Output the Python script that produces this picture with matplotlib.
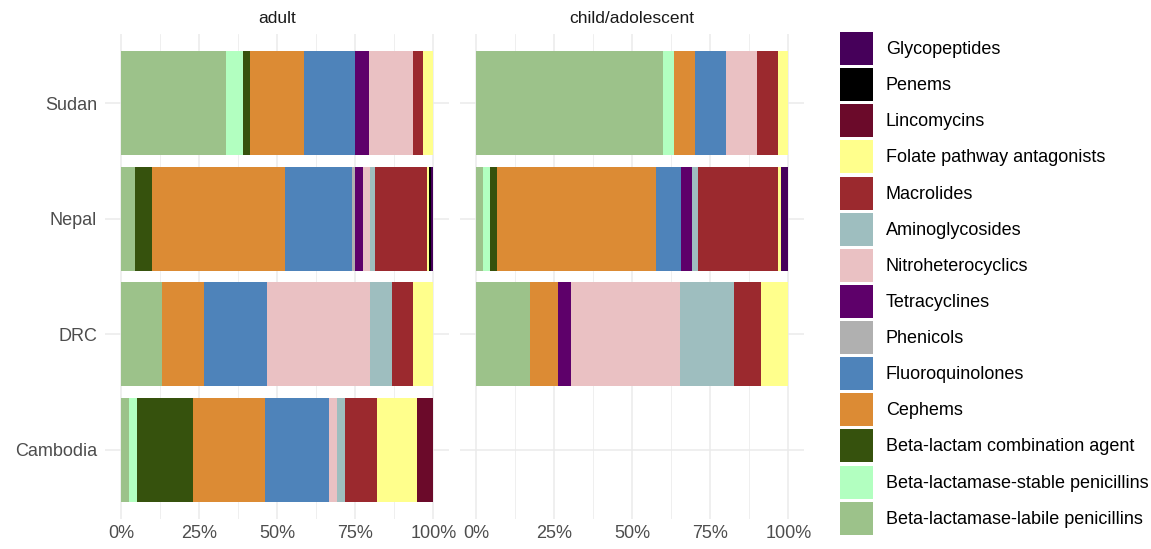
import matplotlib
matplotlib.use("Agg")
import matplotlib.pyplot as plt
from matplotlib.patches import Patch
import numpy as np

plt.rcParams["font.family"] = ["Liberation Sans", "DejaVu Sans"]

# Antimicrobial classes, in stacking order (left to right)
classes = [
    "Beta-lactamase-labile penicillins",
    "Beta-lactamase-stable penicillins",
    "Beta-lactam combination agent",
    "Cephems",
    "Fluoroquinolones",
    "Phenicols",
    "Tetracyclines",
    "Nitroheterocyclics",
    "Aminoglycosides",
    "Macrolides",
    "Folate pathway antagonists",
    "Lincomycins",
    "Penems",
    "Glycopeptides",
]
colors = [
    "#9CC28A", "#B2FFC0", "#36520D", "#DC8B34", "#4E83BA", "#B0B0B0",
    "#5E006A", "#EAC1C3", "#9EBEBF", "#9B292E", "#FFFF8C", "#6B0A2A",
    "#000000", "#46005A",
]

countries = ["Sudan", "Nepal", "DRC", "Cambodia"]
panels = ["adult", "child/adolescent"]

# Share (%) of each class, per country, in class order
adult_sudan = [33.6, 5.5, 2.1, 17.4, 16.3, 0, 4.4, 14.2, 0, 3.2, 3.3, 0, 0, 0]
adult_nepal = [4.5, 0, 5.3, 42.6, 21.6, 1.0, 2.5, 2.3, 1.6, 16.6, 0.5, 0, 0.75, 0.75]
adult_drc = [13.2, 0, 0, 13.5, 19.9, 0, 0, 33.2, 6.9, 6.7, 6.6, 0, 0, 0]
adult_cambodia = [2.6, 2.4, 17.9, 23.3, 20.4, 0, 0, 2.6, 2.5, 10.4, 12.8, 5.1, 0, 0]

child_sudan = [60.0, 3.3, 0, 6.7, 10.0, 0, 0, 10.0, 0, 6.7, 3.3, 0, 0, 0]
child_nepal = [2.3, 2.3, 2.2, 50.7, 8.0, 0, 3.6, 0, 2.1, 25.4, 1.1, 0, 0, 2.3]
child_drc = [17.4, 0, 0, 8.7, 0, 0, 4.3, 34.8, 17.4, 8.7, 8.7, 0, 0, 0]
child_cambodia = None

data = {
    "adult": [adult_sudan, adult_nepal, adult_drc, adult_cambodia],
    "child/adolescent": [child_sudan, child_nepal, child_drc, child_cambodia],
}

xticks = [0, 25, 50, 75, 100]
xticklabels = ["0%", "25%", "50%", "75%", "100%"]

W, H = 1151, 549
fig = plt.figure(figsize=(W / 100, H / 100), dpi=100)


def px_axes(left, right, top, bottom):
    return fig.add_axes([left / W, 1 - bottom / H, (right - left) / W, (bottom - top) / H])


panel_px = [(105.4, 449.0), (460.4, 804.0)]
top_px, bottom_px = 34, 519

ypos = {c: len(countries) - 1 - i for i, c in enumerate(countries)}

for pi, panel in enumerate(panels):
    l, r = panel_px[pi]
    ax = px_axes(l, r, top_px, bottom_px)
    ax.set_xlim(-5, 105)
    ax.set_ylim(-0.6, len(countries) - 1 + 0.6)
    for s in ax.spines.values():
        s.set_visible(False)
    ax.set_facecolor("none")

    # grid
    for x in xticks:
        ax.axvline(x, color="#EBEBEB", lw=1.1, zorder=0)
    for x in [12.5, 37.5, 62.5, 87.5]:
        ax.axvline(x, color="#EBEBEB", lw=0.55, zorder=0)
    for c in countries:
        ax.axhline(ypos[c], color="#EBEBEB", lw=1.1, zorder=0)

    for ci, c in enumerate(countries):
        vals = data[panel][ci]
        if vals is None:
            continue
        left = 0.0
        for k, v in enumerate(vals):
            if v > 0:
                ax.barh(ypos[c], v, left=left, height=0.9, color=colors[k],
                        edgecolor="none", zorder=2)
            left += v

    ax.set_xticks(xticks)
    ax.set_xticklabels(xticklabels, fontsize=13, color="#4D4D4D")
    ax.set_yticks([ypos[c] for c in countries])
    if pi == 0:
        ax.set_yticklabels(countries, fontsize=13, color="#4D4D4D")
    else:
        ax.set_yticklabels([])
    ax.tick_params(length=0, pad=4)
    ax.tick_params(axis="y", pad=6)
    ax.set_title(panel, fontsize=12.5, color="#1A1A1A", pad=8)

handles = [Patch(facecolor=colors[k], edgecolor="none", label=classes[k])
           for k in range(len(classes) - 1, -1, -1)]
fig.legend(handles=handles, loc="upper left",
           bbox_to_anchor=(840 / W, 1 - 32 / H), frameon=False,
           fontsize=13, handlelength=1.81, handleheight=2.44,
           labelspacing=0.17, handletextpad=0.72, borderpad=0, borderaxespad=0)

fig.savefig("out.png", dpi=100, facecolor="white")
